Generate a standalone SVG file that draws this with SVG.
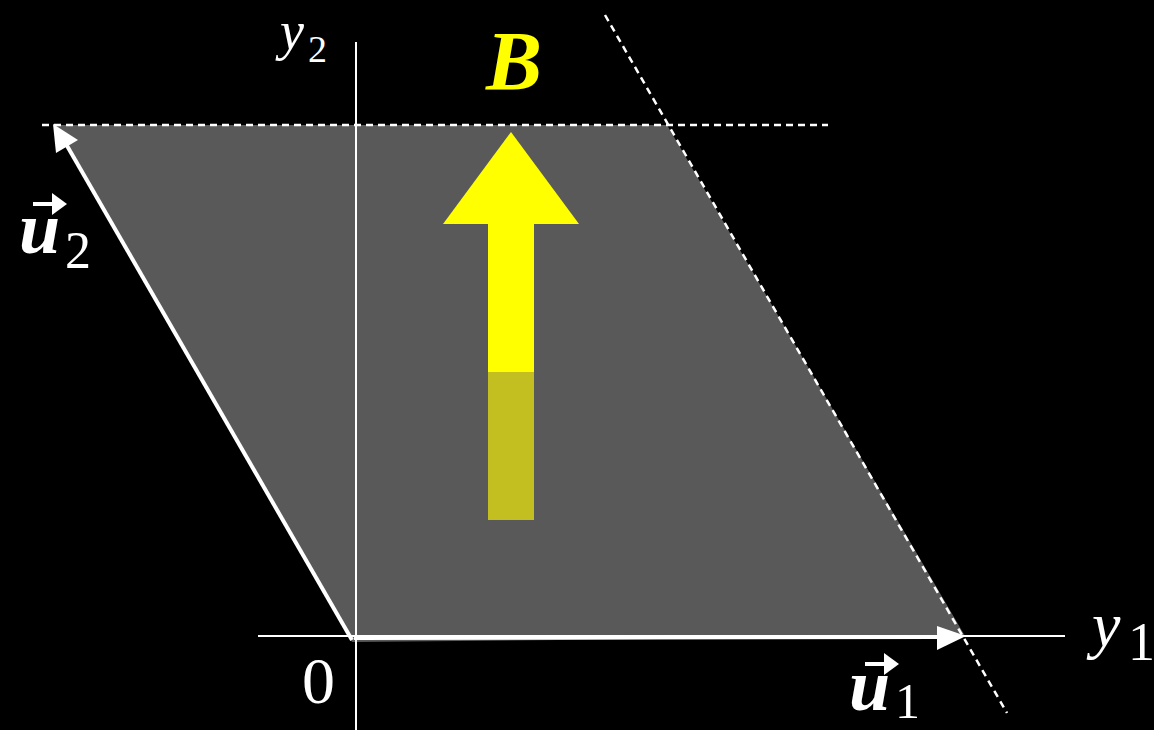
<svg xmlns="http://www.w3.org/2000/svg" width="1154" height="730" viewBox="0 0 1154 730">
<defs>
<style>
.math{font-family:"Liberation Serif","DejaVu Serif",serif;fill:#ffffff}
.bi{font-weight:bold;font-style:italic}
.it{font-style:italic}
.axis{stroke:#ffffff;stroke-width:2;fill:none}
.dash{stroke:#ffffff;stroke-width:2.5;stroke-dasharray:7,5;fill:none}
.vec{stroke:#ffffff;stroke-width:4;fill:none}
.vh{fill:#ffffff}
</style>
</defs>
<rect x="0" y="0" width="1154" height="730" fill="#000000"/>
<g id="parallelogram">
<polygon points="352,642 55,125 667,125 965,636" fill="#595959"/>
</g>
<g id="axes">
<line class="axis" x1="258" y1="636" x2="1065" y2="636"/>
<line class="axis" x1="356" y1="42" x2="356" y2="730"/>
</g>
<g id="guides">
<line class="dash" x1="42" y1="125" x2="828" y2="125"/>
<line class="dash" x1="605" y1="15" x2="1007" y2="713"/>
</g>
<g id="connectors">
<g id="u1-arrow">
<line class="vec" x1="354" y1="638" x2="940" y2="637" stroke-width="5"/>
<polygon class="vh" points="966,636 937,626 937,650"/>
</g>
<g id="u2-arrow">
<line class="vec" x1="352" y1="640" x2="66" y2="144"/>
<polygon class="vh" points="53,124 78,140 56,153"/>
</g>
</g>
<g id="B-arrow">
<polygon points="511,132 443,224 579,224" fill="#ffff00"/>
<rect x="488" y="223" width="46" height="149" fill="#ffff00"/>
<rect x="488" y="372" width="46" height="148" fill="#c4bf21"/>
</g>
<g id="labels">
<text class="math bi" x="486" y="90" font-size="84" style="fill:#ffff00">B</text>
<text class="math it" x="280" y="49" font-size="54">y</text>
<text class="math" x="308" y="62" font-size="38">2</text>
<text class="math it" x="1092" y="646" font-size="64">y</text>
<text class="math" x="1128" y="660" font-size="54">1</text>
<text class="math" x="302" y="703" font-size="66">0</text>
<g id="u2-label">
<text class="math bi" x="19" y="253" font-size="74">u</text>
<text class="math" x="65" y="268" font-size="52">2</text>
<line class="vec" x1="33" y1="204" x2="58" y2="204" stroke-width="5"/>
<polygon class="vh" points="67,204 52,193 52,215"/>
</g>
<g id="u1-label">
<text class="math bi" x="849" y="710" font-size="74">u</text>
<text class="math" x="895" y="718" font-size="50">1</text>
<line class="vec" x1="865" y1="664" x2="890" y2="664" stroke-width="5"/>
<polygon class="vh" points="899,664 884,653 884,675"/>
</g>
</g>
</svg>
